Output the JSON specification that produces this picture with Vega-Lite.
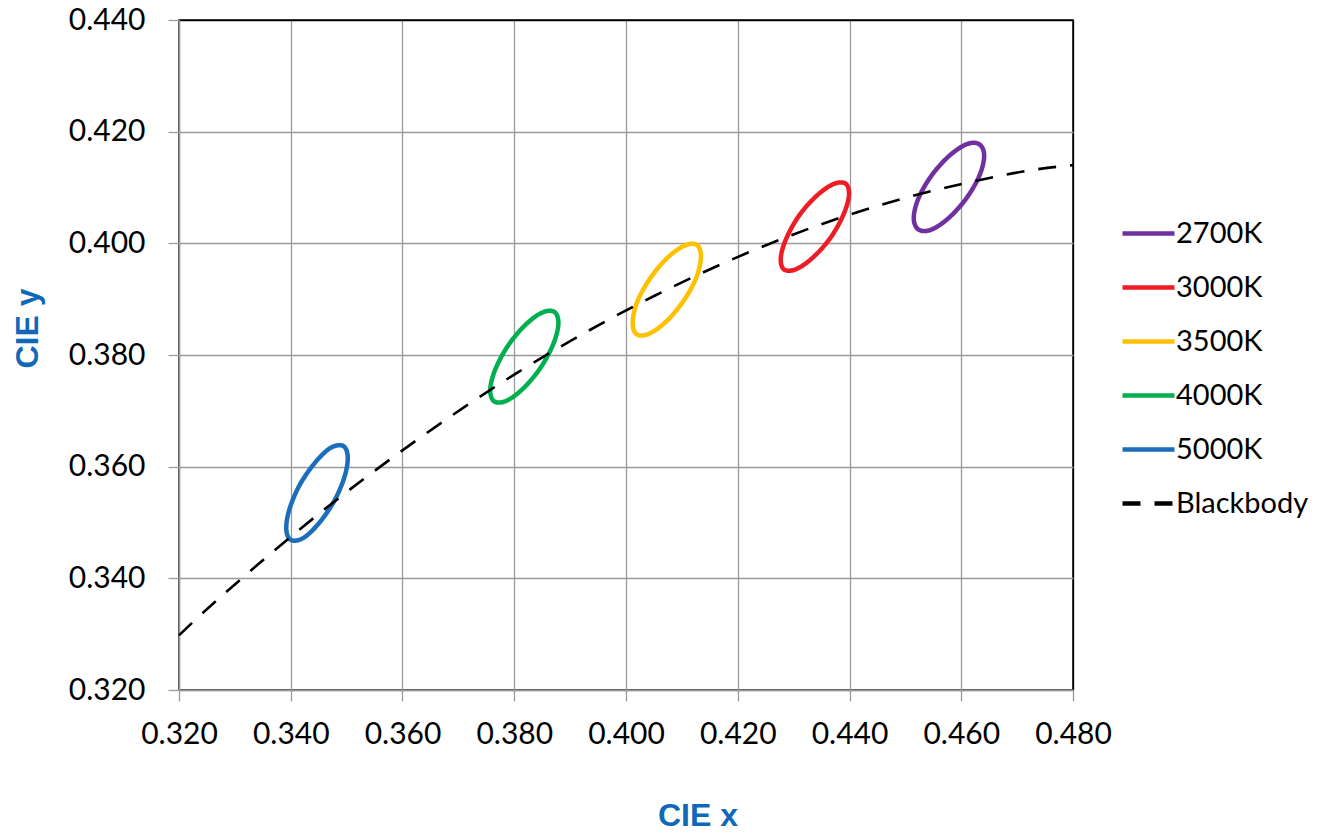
{
  "$schema": "https://vega.github.io/schema/vega-lite/v6.json",
  "width": 894,
  "height": 670,
  "autosize": {"type": "none"},
  "padding": {"left": 179, "top": 20, "right": 269, "bottom": 144},
  "background": "white",
  "config": {
    "view": {"stroke": "#000000", "strokeWidth": 1.5},
    "font": "Lato",
    "axis": {
      "labelFont": "Lato",
      "labelFontSize": 30,
      "labelColor": "#000000",
      "labelOverlap": false,
      "labelFlush": false,
      "tickColor": "#9a9a9a",
      "tickSize": 11,
      "tickWidth": 1.3,
      "domainColor": "#9a9a9a",
      "domainWidth": 1.5,
      "gridWidth": 1.3,
      "titleFont": "Liberation Sans",
      "titleFontSize": 32,
      "titleFontWeight": "bold",
      "titleColor": "#1068B8"
    },
    "legend": {
      "labelFont": "Lato",
      "labelFontSize": 29,
      "labelColor": "#000000"
    }
  },
  "datasets": {
    "ellipses": [
      {"s": "2700K", "i": 0, "x": 0.4633, "y": 0.4177},
      {"s": "2700K", "i": 1, "x": 0.4611, "y": 0.4178},
      {"s": "2700K", "i": 2, "x": 0.4580, "y": 0.4158},
      {"s": "2700K", "i": 3, "x": 0.4548, "y": 0.4123},
      {"s": "2700K", "i": 4, "x": 0.4524, "y": 0.4082},
      {"s": "2700K", "i": 5, "x": 0.4515, "y": 0.4046},
      {"s": "2700K", "i": 6, "x": 0.4523, "y": 0.4025},
      {"s": "2700K", "i": 7, "x": 0.4545, "y": 0.4024},
      {"s": "2700K", "i": 8, "x": 0.4576, "y": 0.4044},
      {"s": "2700K", "i": 9, "x": 0.4608, "y": 0.4079},
      {"s": "2700K", "i": 10, "x": 0.4632, "y": 0.4120},
      {"s": "2700K", "i": 11, "x": 0.4641, "y": 0.4156},
      {"s": "3000K", "i": 0, "x": 0.4393, "y": 0.4107},
      {"s": "3000K", "i": 1, "x": 0.4371, "y": 0.4106},
      {"s": "3000K", "i": 2, "x": 0.4341, "y": 0.4085},
      {"s": "3000K", "i": 3, "x": 0.4310, "y": 0.4050},
      {"s": "3000K", "i": 4, "x": 0.4287, "y": 0.4009},
      {"s": "3000K", "i": 5, "x": 0.4277, "y": 0.3974},
      {"s": "3000K", "i": 6, "x": 0.4283, "y": 0.3953},
      {"s": "3000K", "i": 7, "x": 0.4305, "y": 0.3954},
      {"s": "3000K", "i": 8, "x": 0.4335, "y": 0.3975},
      {"s": "3000K", "i": 9, "x": 0.4366, "y": 0.4010},
      {"s": "3000K", "i": 10, "x": 0.4389, "y": 0.4051},
      {"s": "3000K", "i": 11, "x": 0.4399, "y": 0.4086},
      {"s": "3500K", "i": 0, "x": 0.4127, "y": 0.3997},
      {"s": "3500K", "i": 1, "x": 0.4105, "y": 0.3996},
      {"s": "3500K", "i": 2, "x": 0.4074, "y": 0.3974},
      {"s": "3500K", "i": 3, "x": 0.4043, "y": 0.3937},
      {"s": "3500K", "i": 4, "x": 0.4020, "y": 0.3895},
      {"s": "3500K", "i": 5, "x": 0.4012, "y": 0.3858},
      {"s": "3500K", "i": 6, "x": 0.4019, "y": 0.3837},
      {"s": "3500K", "i": 7, "x": 0.4041, "y": 0.3838},
      {"s": "3500K", "i": 8, "x": 0.4072, "y": 0.3860},
      {"s": "3500K", "i": 9, "x": 0.4103, "y": 0.3897},
      {"s": "3500K", "i": 10, "x": 0.4126, "y": 0.3939},
      {"s": "3500K", "i": 11, "x": 0.4134, "y": 0.3976},
      {"s": "4000K", "i": 0, "x": 0.3872, "y": 0.3877},
      {"s": "4000K", "i": 1, "x": 0.3850, "y": 0.3876},
      {"s": "4000K", "i": 2, "x": 0.3820, "y": 0.3854},
      {"s": "4000K", "i": 3, "x": 0.3789, "y": 0.3817},
      {"s": "4000K", "i": 4, "x": 0.3766, "y": 0.3774},
      {"s": "4000K", "i": 5, "x": 0.3757, "y": 0.3738},
      {"s": "4000K", "i": 6, "x": 0.3764, "y": 0.3717},
      {"s": "4000K", "i": 7, "x": 0.3786, "y": 0.3718},
      {"s": "4000K", "i": 8, "x": 0.3816, "y": 0.3740},
      {"s": "4000K", "i": 9, "x": 0.3847, "y": 0.3777},
      {"s": "4000K", "i": 10, "x": 0.3870, "y": 0.3820},
      {"s": "4000K", "i": 11, "x": 0.3879, "y": 0.3856},
      {"s": "5000K", "i": 0, "x": 0.3494, "y": 0.3637},
      {"s": "5000K", "i": 1, "x": 0.3472, "y": 0.3634},
      {"s": "5000K", "i": 2, "x": 0.3445, "y": 0.3609},
      {"s": "5000K", "i": 3, "x": 0.3417, "y": 0.3569},
      {"s": "5000K", "i": 4, "x": 0.3398, "y": 0.3525},
      {"s": "5000K", "i": 5, "x": 0.3392, "y": 0.3489},
      {"s": "5000K", "i": 6, "x": 0.3400, "y": 0.3469},
      {"s": "5000K", "i": 7, "x": 0.3422, "y": 0.3472},
      {"s": "5000K", "i": 8, "x": 0.3449, "y": 0.3497},
      {"s": "5000K", "i": 9, "x": 0.3477, "y": 0.3537},
      {"s": "5000K", "i": 10, "x": 0.3496, "y": 0.3581},
      {"s": "5000K", "i": 11, "x": 0.3502, "y": 0.3617}
    ],
    "blackbody": [
      {"s": "Blackbody", "i": 0, "x": 0.3200, "y": 0.3298},
      {"s": "Blackbody", "i": 1, "x": 0.3221, "y": 0.3318},
      {"s": "Blackbody", "i": 2, "x": 0.3324, "y": 0.3410},
      {"s": "Blackbody", "i": 3, "x": 0.3451, "y": 0.3516},
      {"s": "Blackbody", "i": 4, "x": 0.3608, "y": 0.3635},
      {"s": "Blackbody", "i": 5, "x": 0.3805, "y": 0.3768},
      {"s": "Blackbody", "i": 6, "x": 0.4053, "y": 0.3907},
      {"s": "Blackbody", "i": 7, "x": 0.4369, "y": 0.4041},
      {"s": "Blackbody", "i": 8, "x": 0.4599, "y": 0.4106},
      {"s": "Blackbody", "i": 9, "x": 0.4770, "y": 0.4137},
      {"s": "Blackbody", "i": 10, "x": 0.4800, "y": 0.4140}
    ]
  },
  "encoding": {
    "x": {
      "field": "x",
      "type": "quantitative",
      "scale": {"domain": [0.32, 0.48], "nice": false, "zero": false},
      "axis": {
        "title": "CIE x",
        "values": [0.32, 0.34, 0.36, 0.38, 0.40, 0.42, 0.44, 0.46, 0.48],
        "format": ".3f",
        "labelPadding": 18,
        "gridColor": {"condition": {"test": "datum.value > 0.4799", "value": "#000000"}, "value": "#9a9a9a"},
        "titleX": 518.5,
        "titleY": 135,
        "titleBaseline": "alphabetic",
        "titleAlign": "center"
      }
    },
    "y": {
      "field": "y",
      "type": "quantitative",
      "scale": {"domain": [0.32, 0.44], "nice": false, "zero": false},
      "axis": {
        "title": "CIE y",
        "values": [0.32, 0.34, 0.36, 0.38, 0.40, 0.42, 0.44],
        "format": ".3f",
        "labelPadding": 23,
        "gridColor": {"condition": {"test": "datum.value > 0.4399", "value": "#000000"}, "value": "#9a9a9a"},
        "titleX": -142,
        "titleY": 308,
        "titleAngle": -90,
        "titleBaseline": "alphabetic",
        "titleAlign": "center"
      }
    },
    "color": {
      "field": "s",
      "type": "nominal",
      "scale": {
        "domain": ["2700K", "3000K", "3500K", "4000K", "5000K", "Blackbody"],
        "range": ["#7030A0", "#EE1D25", "#FFC000", "#00B050", "#1B6EBB", "#000000"]
      },
      "legend": {
        "title": null,
        "orient": "none",
        "legendX": 941,
        "legendY": 185,
        "padding": 0,
        "symbolType": "stroke",
        "symbolSize": 2704,
        "symbolStrokeWidth": 4.5,
        "labelOffset": -1,
        "rowPadding": 10
      }
    },
    "strokeDash": {
      "field": "s",
      "type": "nominal",
      "scale": {
        "domain": ["2700K", "3000K", "3500K", "4000K", "5000K", "Blackbody"],
        "range": [[1, 0], [1, 0], [1, 0], [1, 0], [1, 0], [18, 14]]
      }
    },
    "order": {"field": "i", "type": "quantitative"}
  },
  "layer": [
    {
      "data": {"name": "ellipses"},
      "mark": {"type": "line", "interpolate": "cardinal-closed", "strokeWidth": 4.5, "strokeCap": "round", "strokeJoin": "round"}
    },
    {
      "data": {"name": "blackbody"},
      "mark": {"type": "line", "interpolate": "monotone", "strokeWidth": 2.6}
    }
  ]
}
